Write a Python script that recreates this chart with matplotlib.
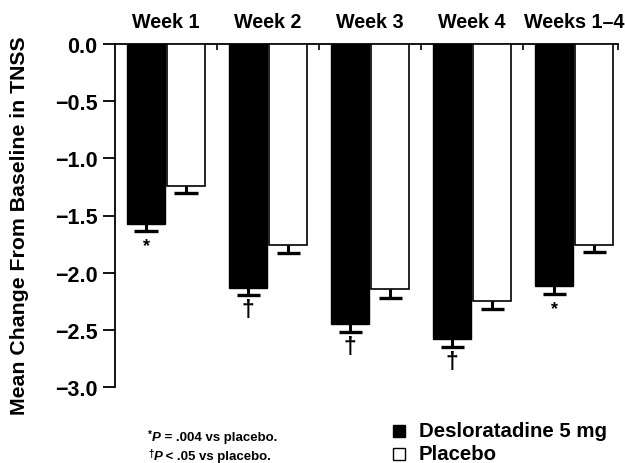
import numpy as np
import matplotlib
matplotlib.use("Agg")
import matplotlib.pyplot as plt
from matplotlib.patches import Rectangle

# ---- data ----
weeks = ["Week 1", "Week 2", "Week 3", "Week 4", "Weeks 1\u20134"]
deslor = [-1.575, -2.13, -2.45, -2.58, -2.12]
deslor_se = [0.064, 0.064, 0.073, 0.073, 0.07]
placebo = [-1.24, -1.755, -2.14, -2.245, -1.756]
placebo_se = [0.06, 0.075, 0.08, 0.073, 0.066]
sig = ["*", "\u2020", "\u2020", "\u2020", "*"]
yticks = [0.0, -0.5, -1.0, -1.5, -2.0, -2.5, -3.0]
ytick_labels = [("%.1f" % v).replace("-", "\u2212") for v in yticks]

plt.rcParams["font.family"] = ["Liberation Sans", "DejaVu Sans"]
plt.rcParams["font.weight"] = "bold"

W, H = 625, 464
fig = plt.figure(figsize=(W / 100, H / 100), dpi=100)

def fx(px):
    return px / W

def fy(py):
    return 1 - py / H

ax = fig.add_axes([fx(115), fy(388), fx(618) - fx(115), fy(45) - fy(388)])

x = np.arange(len(weeks))
off = 0.196
bw = 0.368
ax.bar(x - off, deslor, width=bw, color="black", edgecolor="black", linewidth=1.0, zorder=3)
ax.bar(x + off, placebo, width=bw, facecolor="white", edgecolor="black", linewidth=1.2, zorder=3)

cap = 0.113
for xs, vals, ses in ((x - off, deslor, deslor_se), (x + off, placebo, placebo_se)):
    vals = np.array(vals)
    ses = np.array(ses)
    ax.vlines(xs, vals - ses, vals, colors="black", linewidth=2.2, zorder=4)
    ax.hlines(vals - ses, xs - cap, xs + cap, colors="black", linewidth=2.4, zorder=4)

for i, s in enumerate(sig):
    ybot = deslor[i] - deslor_se[i]
    if s == "*":
        ax.annotate(s, (x[i] - off, ybot), xytext=(0, -4), textcoords="offset points",
                    ha="center", va="top", fontsize=13, fontweight="bold")
    else:
        ax.annotate(s, (x[i] - off, ybot), xytext=(0, -2), textcoords="offset points",
                    ha="center", va="top", fontsize=16.5, fontweight="bold")

ax.set_xlim(-0.5, 4.43)
ax.set_ylim(-3.0, 0.0)

ax.spines["right"].set_visible(False)
ax.spines["bottom"].set_visible(False)
ax.spines["left"].set_linewidth(1.3)
ax.spines["top"].set_linewidth(1.3)

ax.set_yticks(yticks)
ax.set_yticklabels(ytick_labels)
ax.tick_params(axis="y", direction="out", length=8.5, width=1.3, pad=4, labelsize=15.5)

ax.xaxis.tick_top()
ax.set_xticks(x)
ax.set_xticklabels(weeks)
ax.tick_params(axis="x", which="major", length=0, pad=9, labelsize=14.2)
ax.set_xticks([0.5, 1.5, 2.5, 3.5, 4.43], minor=True)
ax.tick_params(axis="x", which="minor", direction="in", length=4, width=1.2, top=True, bottom=False)

fig.text(fx(20), fy(226), "Mean Change From Baseline in TNSS", rotation=90,
         ha="center", va="center", fontsize=15.3, fontweight="bold")

# footnotes
fig.canvas.draw()
renderer = fig.canvas.get_renderer()

def chain(xpx, ypx, pieces):
    cx = xpx
    for s, props, dy in pieces:
        t = fig.text(fx(cx), fy(ypx - dy), s, ha="left", va="center", **props)
        bb = t.get_window_extent(renderer)
        cx += bb.width

fs = 9.5
chain(148, 438, [("*", dict(fontsize=7, fontweight="bold"), 3),
                 ("P", dict(fontsize=fs, fontweight="bold", style="italic"), 0),
                 (" = .004 vs placebo.", dict(fontsize=fs, fontweight="bold"), 0)])
chain(148, 457, [("\u2020", dict(fontsize=7, fontweight="bold"), 3),
                 ("P", dict(fontsize=fs, fontweight="bold", style="italic"), 0),
                 (" < .05 vs placebo.", dict(fontsize=fs, fontweight="bold"), 0)])

# legend
sq = 12
fig.patches.append(Rectangle((fx(393), fy(432 + sq / 2)), fx(sq), sq / H,
                             transform=fig.transFigure, facecolor="black", edgecolor="black", lw=1))
fig.patches.append(Rectangle((fx(393), fy(455 + sq / 2)), fx(sq), sq / H,
                             transform=fig.transFigure, facecolor="white", edgecolor="black", lw=1))
fig.text(fx(419), fy(432), "Desloratadine 5 mg", ha="left", va="center", fontsize=14.7, fontweight="bold")
fig.text(fx(419), fy(455), "Placebo", ha="left", va="center", fontsize=14.7, fontweight="bold")

fig.savefig("out.png", dpi=100)
